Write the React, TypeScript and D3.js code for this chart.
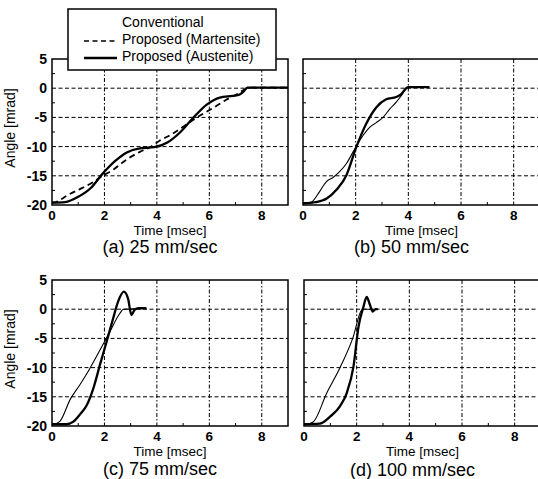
import * as d3 from "d3";

// time [msec] / angle [mrad]
const aAusT = [0, 0.5, 1.0, 1.5, 1.9, 2.4, 2.85, 3.35, 3.9, 4.4, 4.9, 5.4, 5.9, 6.4, 6.9, 7.15, 7.3, 7.45, 9];
const aAusV = [-19.6, -19.5, -18.6, -17.0, -14.8, -12.5, -11.0, -10.3, -10.1, -9.3, -7.5, -5.0, -2.8, -1.6, -1.3, -1.1, -0.6, 0.1, 0.1];
const aMarT = [0, 0.15, 0.6, 1.1, 1.6, 1.9, 2.35, 2.85, 3.35, 3.75, 4.1, 4.6, 5.1, 5.6, 6.1, 6.6, 7.1, 7.4, 7.6, 9];
const aMarV = [-19.6, -19.5, -18.3, -17.2, -16.0, -15.1, -13.9, -12.2, -10.9, -10.1, -9.0, -7.8, -6.3, -4.8, -3.5, -2.1, -0.9, -0.1, 0.1, 0.1];

const bAusT = [0, 0.5, 0.9, 1.27, 1.65, 2.0, 2.4, 2.78, 3.16, 3.54, 3.73, 3.92, 4.0, 4.8];
const bAusV = [-19.7, -19.5, -18.9, -17.4, -14.9, -10.4, -6.1, -3.3, -1.9, -1.5, -1.0, 0.0, 0.2, 0.2];
const bMarT = [0, 0.32, 0.63, 0.89, 1.14, 1.39, 1.65, 2.0, 2.28, 2.53, 2.78, 3.04, 3.29, 3.54, 3.73, 3.86, 3.95, 4.1, 4.8];
const bMarV = [-19.8, -19.5, -17.7, -16.0, -15.3, -14.3, -12.9, -10.1, -8.1, -6.7, -5.9, -5.0, -3.6, -2.4, -1.3, -0.4, 0.1, 0.2, 0.2];

const cAusT = [0, 0.55, 0.8, 1.07, 1.33, 1.58, 1.83, 2.08, 2.33, 2.52, 2.74, 2.9, 3.03, 3.15, 3.3, 3.6];
const cAusV = [-19.7, -19.7, -19.3, -18.0, -16.4, -13.5, -9.5, -5.6, -1.6, 1.3, 3.0, 1.8, -1.0, -0.1, 0.2, 0.2];
const cMarT = [0, 0.3, 0.7, 1.07, 1.45, 1.83, 2.2, 2.59, 2.72, 3.6];
const cMarV = [-19.8, -19.2, -15.4, -12.9, -10.1, -7.0, -3.9, -0.7, 0.0, 0.1];

const dAusT = [0, 0.6, 0.99, 1.37, 1.62, 1.88, 2.07, 2.26, 2.38, 2.5, 2.61, 2.72, 2.8];
const dAusV = [-19.7, -19.6, -18.4, -16.6, -14.4, -9.8, -3.0, 0.45, 2.1, 0.8, -0.4, 0.0, 0.0];
const dMarT = [0, 0.35, 0.86, 1.37, 1.85, 2.2, 2.3, 2.8];
const dMarV = [-19.8, -19.3, -14.4, -10.0, -5.0, -0.1, 0.0, 0.0];

const xTicks = [0, 2, 4, 6, 8];
const xMinor = [1, 3, 5, 7];
const yTicks = [5, 0, -5, -10, -15, -20];
const yMinor = [2.5, -2.5, -7.5, -12.5, -17.5];
const legendLabels = ["Conventional", "Proposed (Martensite)", "Proposed (Austenite)"];

const font = "Arial, 'Liberation Sans', sans-serif";

const zip = (t: number[], v: number[]) => t.map((x, i) => [x, v[i]] as [number, number]);

const panels = [
  { id: "a", caption: "(a) 25 mm/sec", left: 52, top: 59, w: 236, capY: 253, yLabels: true,
    aus: zip(aAusT, aAusV), mar: zip(aMarT, aMarV), dashed: true },
  { id: "b", caption: "(b) 50 mm/sec", left: 303, top: 59, w: 237, capY: 253, yLabels: false,
    aus: zip(bAusT, bAusV), mar: zip(bMarT, bMarV), dashed: false },
  { id: "c", caption: "(c) 75 mm/sec", left: 52, top: 280, w: 236, capY: 474.5, yLabels: true,
    aus: zip(cAusT, cAusV), mar: zip(cMarT, cMarV), dashed: false },
  { id: "d", caption: "(d) 100 mm/sec", left: 304, top: 280, w: 237, capY: 475.5, yLabels: false,
    aus: zip(dAusT, dAusV), mar: zip(dMarT, dMarV), dashed: false },
];

function Panel({ p }: { p: (typeof panels)[number] }) {
  const h = 146;
  const x = d3.scaleLinear().domain([0, 9]).range([p.left, p.left + p.w]);
  const y = d3.scaleLinear().domain([-20, 5]).range([p.top + h, p.top]);
  const line = d3
    .line<[number, number]>()
    .x((d) => x(d[0]))
    .y((d) => y(d[1]))
    .curve(d3.curveMonotoneX);
  const bottom = p.top + h;
  const cx = p.left + p.w / 2;

  return (
    <g>
      {/* grid */}
      {yTicks.slice(1, -1).map((t) => (
        <line key={"gy" + t} x1={p.left} x2={p.left + p.w} y1={y(t)} y2={y(t)}
          stroke="#000" strokeWidth={1} strokeDasharray="4,2.5" />
      ))}
      {xTicks.slice(1).map((t) => (
        <line key={"gx" + t} x1={x(t)} x2={x(t)} y1={p.top} y2={bottom}
          stroke="#000" strokeWidth={1} strokeDasharray="4,2,1.5,2" />
      ))}
      {/* minor ticks */}
      {xMinor.map((t) => (
        <line key={"mx" + t} x1={x(t)} x2={x(t)} y1={bottom} y2={bottom - 3} stroke="#000" strokeWidth={1} />
      ))}
      {yMinor.map((t) => (
        <line key={"my" + t} x1={p.left} x2={p.left + 3} y1={y(t)} y2={y(t)} stroke="#000" strokeWidth={1} />
      ))}
      {/* curves */}
      <path d={line(p.mar) ?? ""} fill="none" stroke="#000"
        strokeWidth={p.dashed ? 1.8 : 1.1}
        strokeDasharray={p.dashed ? "6,4" : undefined} />
      <path d={line(p.aus) ?? ""} fill="none" stroke="#000" strokeWidth={2.3} />
      {/* frame */}
      <rect x={p.left} y={p.top} width={p.w} height={h} fill="none" stroke="#000" strokeWidth={1.5} />
      {/* tick labels */}
      {xTicks.map((t) => (
        <text key={"tx" + t} x={x(t)} y={bottom + 15} textAnchor="middle"
          fontSize={13.5} fontWeight="bold">{t}</text>
      ))}
      {p.yLabels &&
        yTicks.map((t) => (
          <text key={"ty" + t} x={p.left - 5} y={y(t) + 5} textAnchor="end"
            fontSize={14} fontWeight="bold">{t}</text>
        ))}
      <text x={cx} y={bottom + 29.5} textAnchor="middle" fontSize={13.5}>Time [msec]</text>
      {p.yLabels && (
        <text transform={`translate(15, ${p.top + h / 2 - 4}) rotate(-90)`} textAnchor="middle"
          fontSize={14}>Angle [mrad]</text>
      )}
      <text x={cx - 10} y={p.capY} textAnchor="middle" fontSize={18}>{p.caption}</text>
    </g>
  );
}

export default function App() {
  return (
    <svg width={538} height={479} style={{ position: "absolute", left: 0, top: 0, background: "#fff" }}
      fontFamily={font}>
      {panels.map((p) => (
        <Panel key={p.id} p={p} />
      ))}
      {/* legend */}
      <g>
        <rect x={68} y={9} width={208} height={61} fill="#fff" stroke="#000" strokeWidth={1.5} />
        {legendLabels.map((l, i) => (
          <text key={l} x={122} y={27 + i * 17} fontSize={14}>{l}</text>
        ))}
        <line x1={84} x2={117} y1={41} y2={41} stroke="#000" strokeWidth={1.6} strokeDasharray="5,3.5" />
        <line x1={84} x2={117} y1={58} y2={58} stroke="#000" strokeWidth={2.3} />
      </g>
    </svg>
  );
}
